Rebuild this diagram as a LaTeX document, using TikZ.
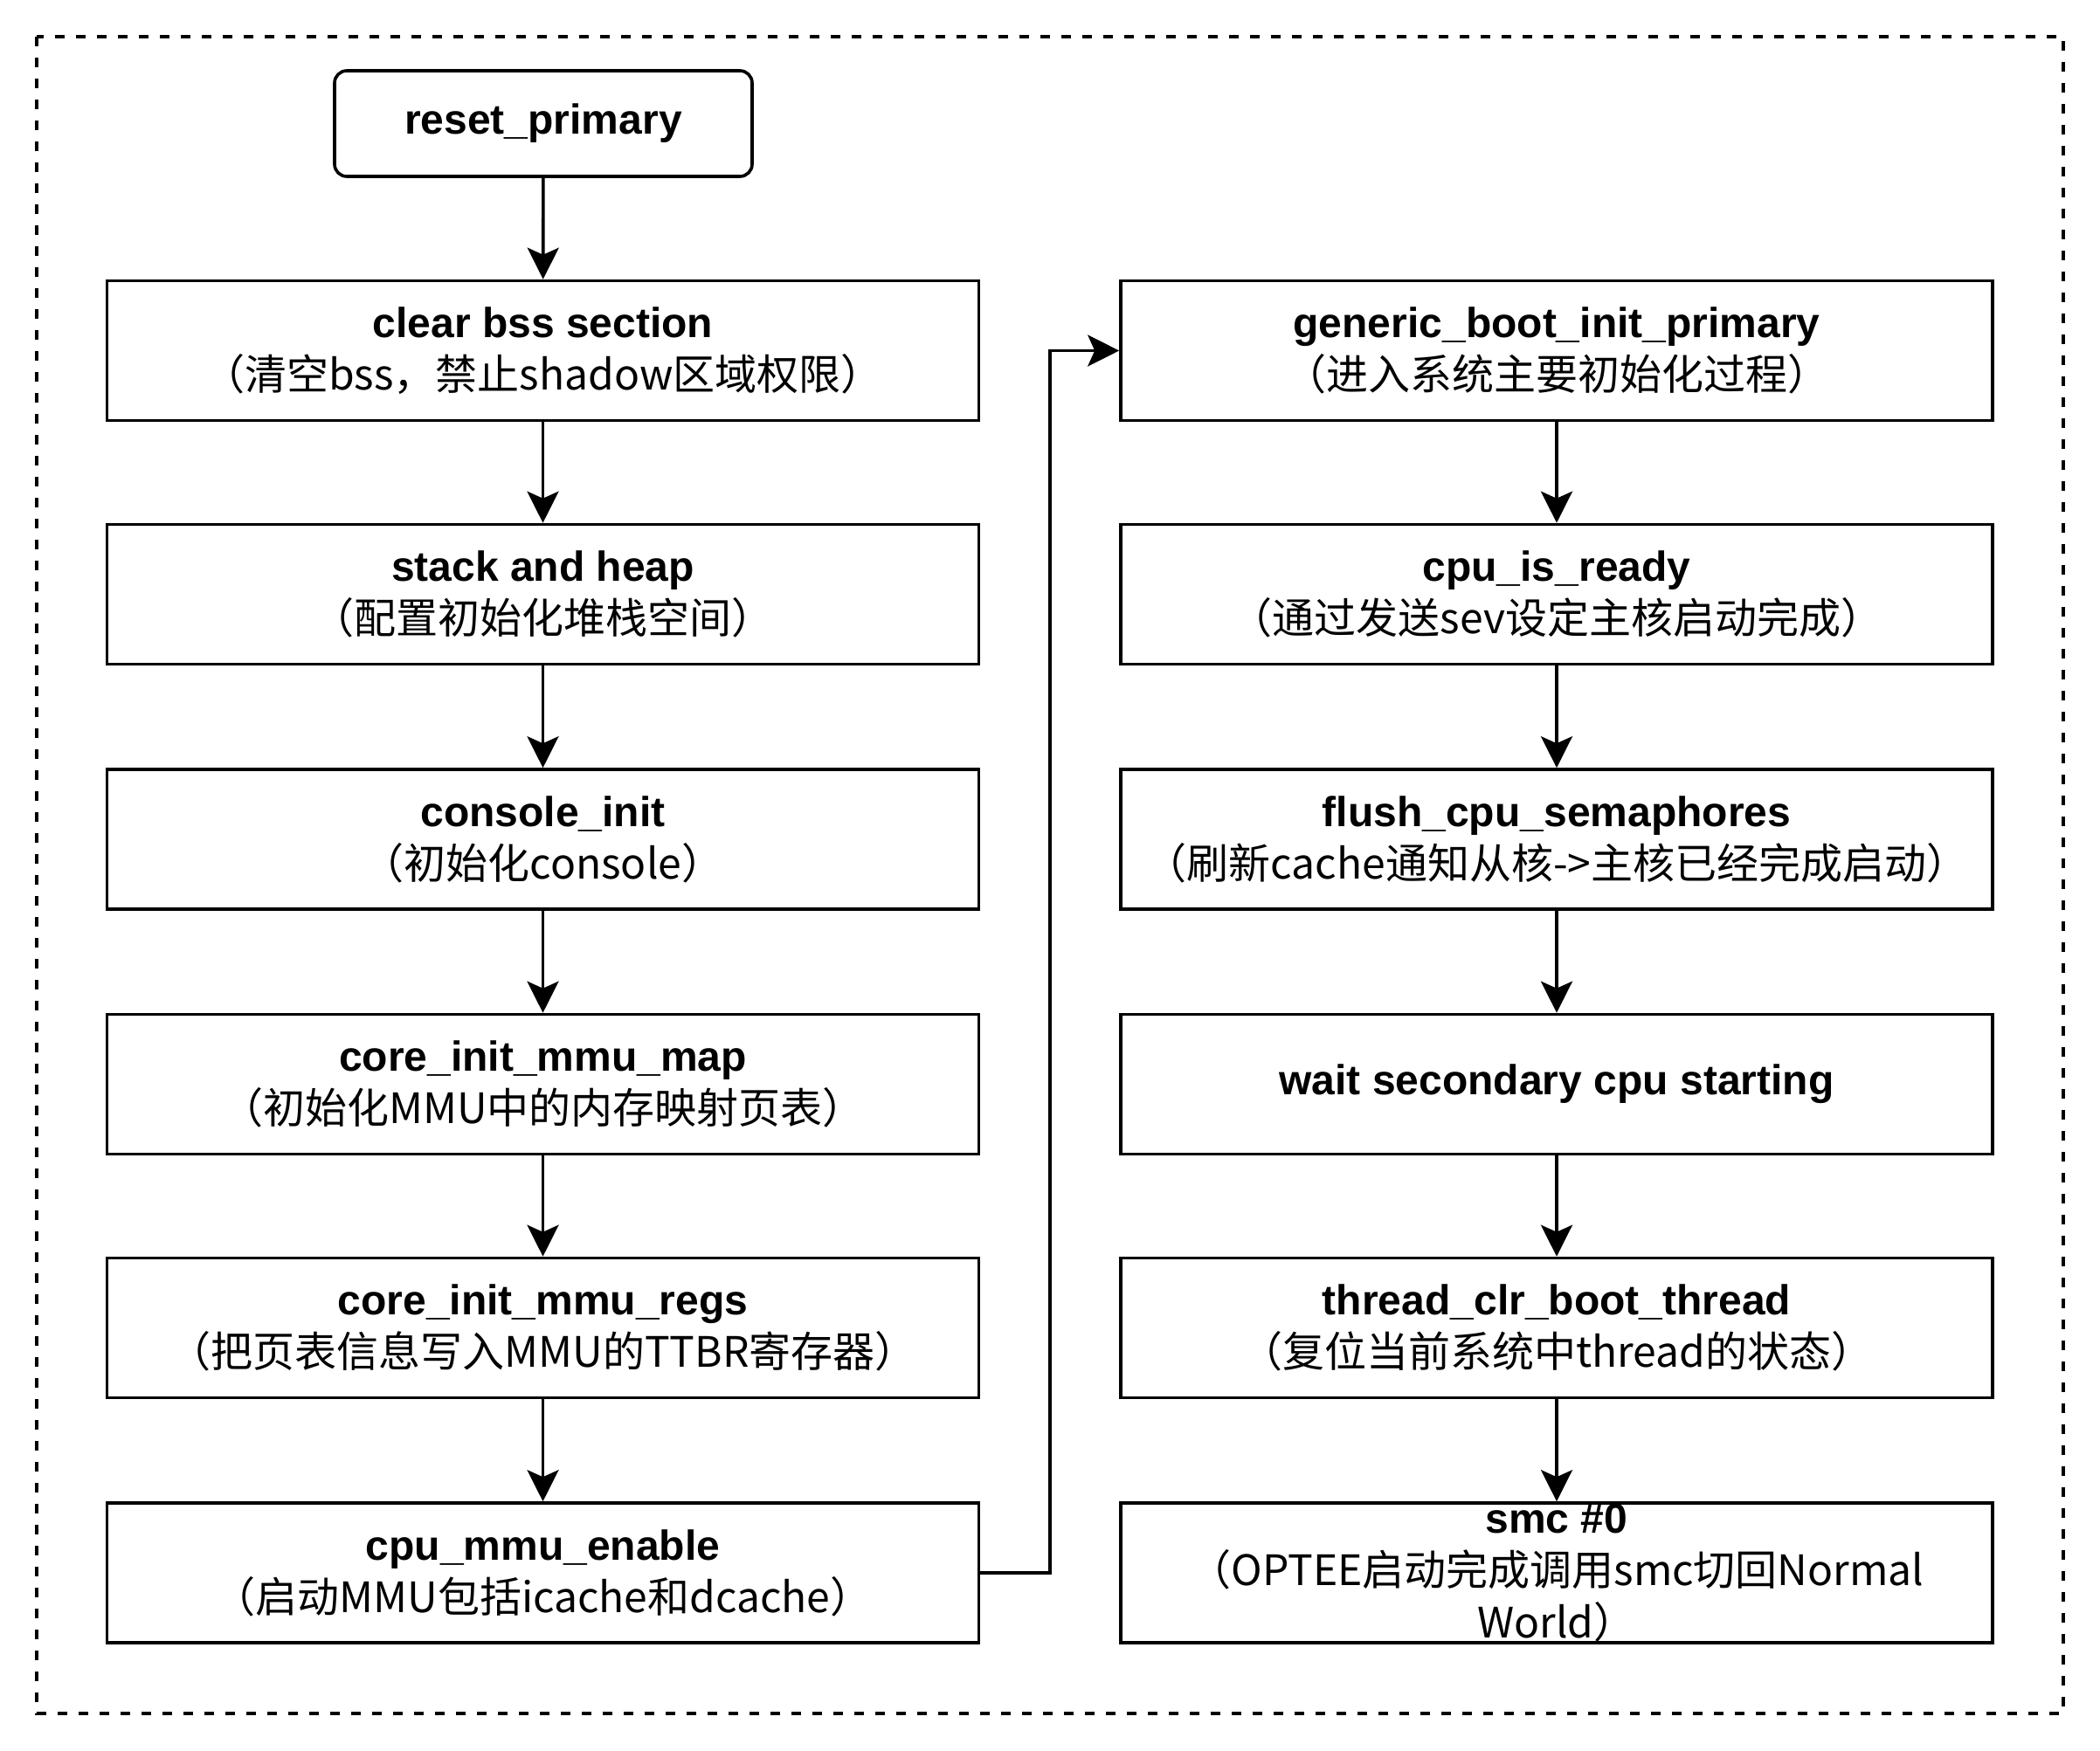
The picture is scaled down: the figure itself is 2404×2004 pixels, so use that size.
\documentclass[tikz,border=0pt]{standalone}
\usepackage{fontspec}
\setmainfont{Liberation Sans}
\newfontfamily\cjk{Noto Sans CJK SC}
\usepackage{tikz}
\usetikzlibrary{arrows.meta,positioning,calc}

\begin{document}
\begin{tikzpicture}[x=0.5pt,y=-0.5pt,line width=1.8pt,>={Stealth[length=18pt,width=18pt,inset=4pt]},
  proc node/.style={rectangle,draw,minimum width=499pt,minimum height=80pt,inner sep=0pt,align=center,font=\fontsize{24}{30}\selectfont},
  start node/.style={proc node,rounded corners=7pt,minimum width=239pt,minimum height=60.5pt}]
\useasboundingbox (0,0) rectangle (2404,2004);
\draw[line width=2pt,dash pattern=on 5.5pt off 6.5pt] (42,42) rectangle (2362,1962);
\begin{scope}
\node[start node] (rst) at (622,141.5) {\textbf{reset\_primary}};
\node[proc node] (c1) at (621.5,401.5) {\textbf{clear bss section}\\{\cjk （清空bss，禁止shadow区域权限）}};
\node[proc node] (c2) at (621.5,680.5) {\textbf{stack and heap}\\{\cjk （配置初始化堆栈空间）}};
\node[proc node] (c3) at (621.5,961) {\textbf{console\_init}\\{\cjk （初始化console）}};
\node[proc node] (c4) at (621.5,1241.5) {\textbf{core\_init\_mmu\_map}\\{\cjk （初始化MMU中的内存映射页表）}};
\node[proc node] (c5) at (621.5,1520.5) {\textbf{core\_init\_mmu\_regs}\\{\cjk （把页表信息写入MMU的TTBR寄存器）}};
\node[proc node] (c6) at (621.5,1801) {\textbf{cpu\_mmu\_enable}\\{\cjk （启动MMU包括icache和dcache）}};
\node[proc node] (g1) at (1782,401.5) {\textbf{generic\_boot\_init\_primary}\\{\cjk （进入系统主要初始化过程）}};
\node[proc node] (g2) at (1782,680.5) {\textbf{cpu\_is\_ready}\\{\cjk （通过发送sev设定主核启动完成）}};
\node[proc node] (g3) at (1782,961) {\textbf{flush\_cpu\_semaphores}\\{\cjk （刷新cache通知从核->主核已经完成启动）}};
\node[proc node] (g4) at (1782,1241.5) {\textbf{wait secondary cpu starting}};
\node[proc node] (g5) at (1782,1520.5) {\textbf{thread\_clr\_boot\_thread}\\{\cjk （复位当前系统中thread的状态）}};
\node[proc node] (g6) at (1782,1801) {\textbf{smc \#0}\\{\cjk （OPTEE启动完成调用smc切回Normal}\\{\cjk World）}};
\coordinate (bend) at (1202,1100);
\end{scope}
\begin{scope}
\draw[->] (rst) edge (c1);
\draw[->] (c1) edge (c2);
\draw[->] (c2) edge (c3);
\draw[->] (c3) edge (c4);
\draw[->] (c4) edge (c5);
\draw[->] (c5) edge (c6);
\draw[->] (c6.east) -| (bend) |- (g1.west);
\draw[->] (g1) edge (g2);
\draw[->] (g2) edge (g3);
\draw[->] (g3) edge (g4);
\draw[->] (g4) edge (g5);
\draw[->] (g5) edge (g6);
\end{scope}
\end{tikzpicture}
\end{document}
